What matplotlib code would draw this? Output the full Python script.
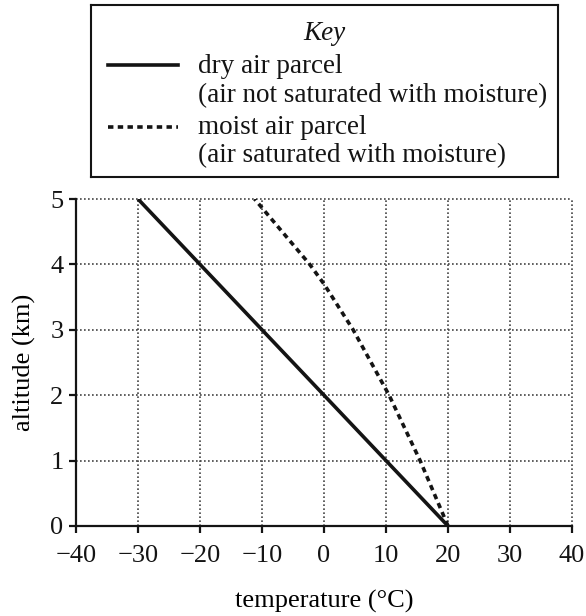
import matplotlib
matplotlib.use("Agg")
import matplotlib.pyplot as plt
from matplotlib.lines import Line2D

plt.rcParams['font.family'] = ['Liberation Serif', 'DejaVu Serif']
plt.rcParams['font.size'] = 19

# dry adiabatic lapse (about 10 degC per km)
dry_alt = [0, 1, 2, 3, 4, 5]
dry_temp = [20, 10, 0, -10, -20, -30]

# moist (saturated) parcel
moist_alt = [0, 1, 2, 3, 3.7, 4, 5]
moist_temp = [20, 15.5, 10.5, 4.7, 0, -2.3, -11.2]

x_ticks = [-40, -30, -20, -10, 0, 10, 20, 30, 40]
y_ticks = [0, 1, 2, 3, 4, 5]

key_labels = [("dry air parcel", "(air not saturated with moisture)"),
              ("moist air parcel", "(air saturated with moisture)")]

ink = '#141414'
fig = plt.figure(figsize=(5.86, 6.16), dpi=100)

ax = fig.add_axes([76 / 586, 90 / 616, 496 / 586, 327 / 616])
ax.plot(dry_temp, dry_alt, color=ink, lw=2.6, solid_capstyle='butt')
ax.plot(moist_temp, moist_alt, color=ink, lw=2.6, linestyle=(0, (1.5, 1.2)))

ax.set_xlim(-40, 40)
ax.set_ylim(0, 5)
ax.set_xticks(x_ticks)
ax.set_yticks(y_ticks)
ax.grid(True, color='#444444', linestyle=(0, (1, 1.4)), linewidth=1.2)
ax.set_axisbelow(True)
for g in ax.get_xgridlines() + ax.get_ygridlines():
    g.set_clip_on(False)
ax.spines['top'].set_visible(False)
ax.spines['right'].set_visible(False)
ax.spines['left'].set_linewidth(1.6)
ax.spines['bottom'].set_linewidth(1.6)
ax.spines['left'].set_color(ink)
ax.spines['bottom'].set_color(ink)
ax.tick_params(direction='out', length=5, width=1.6, colors=ink, labelsize=19)
ax.tick_params(axis='x', pad=9)
ax.tick_params(axis='y', pad=4)
ax.set_xlabel("temperature (°C)", fontsize=19, labelpad=16)
ax.set_ylabel("altitude (km)", fontsize=19, labelpad=10)

# key box
kax = fig.add_axes([91 / 586, 439 / 616, 467 / 586, 172 / 616])
kax.set_xlim(0, 1)
kax.set_ylim(0, 1)
kax.set_xticks([])
kax.set_yticks([])
for s in kax.spines.values():
    s.set_linewidth(1.5)
    s.set_color(ink)
kax.text(0.5, 0.837, "Key", style='italic', ha='center', va='center', fontsize=19.5, color=ink)
styles = ['-', (0, (1.5, 1.2))]
rows = [(0.645, 0.472), (0.287, 0.124)]
for (l1, l2), ls, (y1, y2) in zip(key_labels, styles, rows):
    kax.add_line(Line2D([0.036, 0.186], [y1 + 0.005, y1 + 0.005], color=ink, lw=2.6, linestyle=ls))
    kax.text(0.229, y1, l1, ha='left', va='center', fontsize=19.5, color=ink)
    kax.text(0.229, y2, l2, ha='left', va='center', fontsize=19.5, color=ink)

fig.savefig("out.png", dpi=100)
